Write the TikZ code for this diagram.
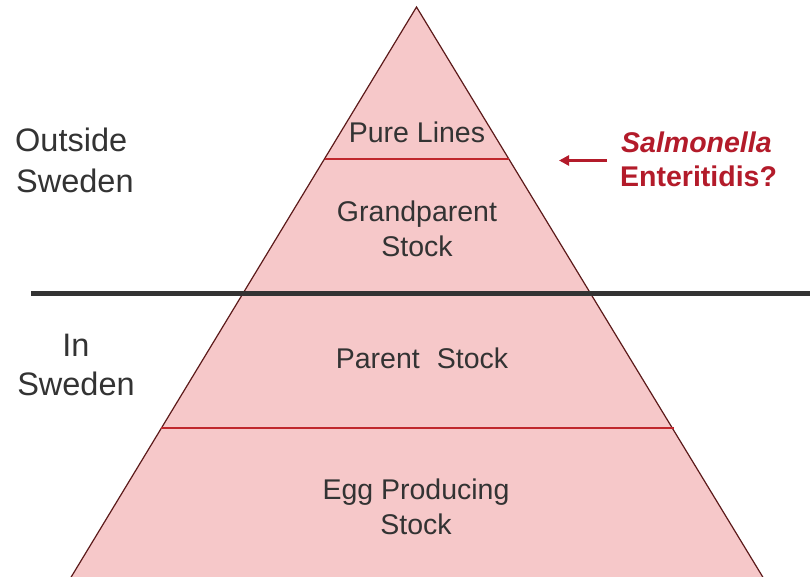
\documentclass[tikz,border=0pt]{standalone}
\usepackage{fontspec}
\setmainfont{Liberation Sans}
\usetikzlibrary{arrows.meta}
\definecolor{pyrfill}{HTML}{F6C8C9}
\definecolor{pyredge}{HTML}{5C1A1A}
\definecolor{tierline}{HTML}{C0282D}
\definecolor{txtgray}{HTML}{333333}
\definecolor{salred}{HTML}{B31B2A}
\begin{document}
\begin{tikzpicture}[x=1pt,y=-1pt,
  pyrtext/.style={anchor=base,text=txtgray,inner sep=0pt,font=\fontsize{28.5}{34}\selectfont},
  sidetext/.style={anchor=base,text=txtgray,inner sep=0pt,font=\fontsize{32.5}{40}\selectfont},
  saltext/.style={anchor=base west,text=salred,inner sep=0pt,font=\fontsize{28.5}{34}\selectfont\bfseries},
  tier/.style={draw=tierline,line width=2.5pt},
  divider/.style={draw=txtgray,line width=5pt}]
\useasboundingbox (0,0) rectangle (810,577);
\clip (0,0) rectangle (810,577);
% pyramid
\coordinate (apex) at (416.5,7);
\coordinate (bl) at (53,607);
\coordinate (br) at (781,607);
\fill[pyrfill] (apex) -- (bl) -- (br) -- cycle;
\draw[pyredge,line width=1.2pt,line join=miter] (bl) -- (apex) -- (br);
% tier lines
\coordinate (t1l) at (325,159);
\coordinate (t1r) at (509,159);
\coordinate (t2l) at (161,428);
\coordinate (t2r) at (674,428);
\draw[tier] (t1l) -- (t1r);
\draw[tier] (t2l) -- (t2r);
% divider
\coordinate (dl) at (31,293);
\coordinate (dr) at (810,293);
\draw[divider] (dl) -- (dr);
% pyramid texts
\node[pyrtext] (pure) at (417,143) {Pure Lines};
\node[pyrtext] (gp1) at (417,222) {Grandparent};
\node[pyrtext] (gp2) at (417,256) {Stock};
\node[pyrtext] (ps) at (422,368) {Parent\hspace{0.6em}Stock};
\node[pyrtext] (eg1) at (416,499) {Egg Producing};
\node[pyrtext] (eg2) at (416,534) {Stock};
% side texts
\node[sidetext,anchor=base west] (out1) at (15,152) {Outside};
\node[sidetext,anchor=base west] (out2) at (16,193) {Sweden};
\node[sidetext] (in1) at (76,356) {In};
\node[sidetext] (in2) at (76,395) {Sweden};
% salmonella
\node[saltext] (sal1) at (621,153) {\itshape Salmonella};
\node[saltext] (sal2) at (620,187) {Enteritidis?};
\coordinate (arS) at (607,160.5);
\coordinate (arE) at (559,160.5);
\draw[salred,line width=3pt,-{Triangle[length=10pt,width=10pt]}] (arS) -- (arE);
\end{tikzpicture}
\end{document}
